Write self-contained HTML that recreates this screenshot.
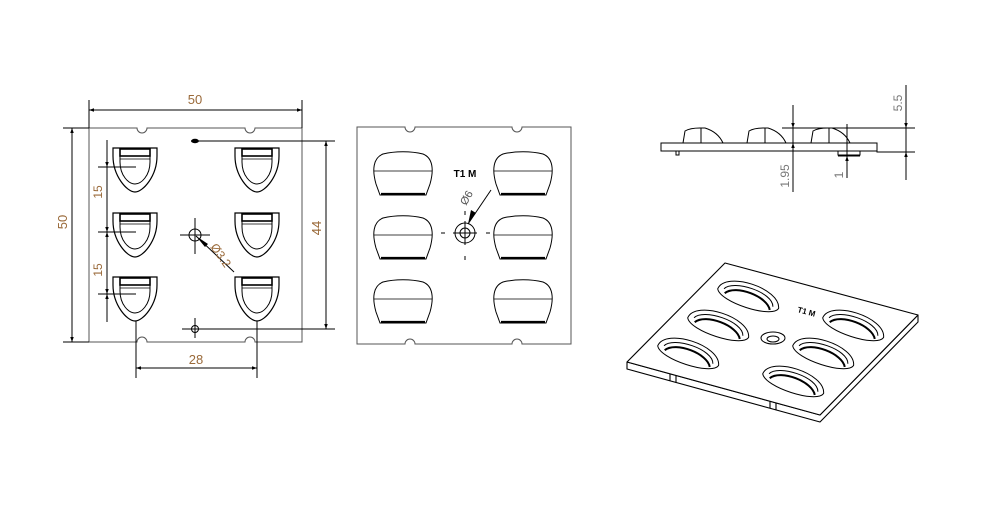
<!DOCTYPE html>
<html><head><meta charset="utf-8"><style>
html,body{margin:0;padding:0;background:#fff}
svg{display:block}
text{font-family:"Liberation Sans",sans-serif}
</style></head><body>
<svg width="1000" height="517" viewBox="0 0 1000 517" xmlns="http://www.w3.org/2000/svg">
<defs>
<marker id="ar" viewBox="0 0 10 10" refX="10" refY="5" markerWidth="9" markerHeight="5" orient="auto-start-reverse" markerUnits="userSpaceOnUse"><path d="M0,1.5 L10,5 L0,8.5 z" fill="#000"/></marker>
<g id="u">
<path d="M-22,0 H22 V8 C22,28 8,44 0,44 C-8,44 -22,28 -22,8 Z" fill="#fff" stroke="#000" stroke-width="1.2"/>
<path d="M-15,8 V14 C-15,28 -6,36 0,36 C6,36 15,28 15,14 V8" fill="none" stroke="#000" stroke-width="1"/>
<rect x="-15" y="1" width="30" height="7" fill="#fff" stroke="#000" stroke-width="1.6"/>
<line x1="-15" y1="11" x2="15" y2="11" stroke="#000" stroke-width="0.8"/>
</g>
<g id="pl">
<path d="M-23,39 L-27,28 C-31,14 -30,2 -20,-2 C-8,-5 8,-5 20,-2 C30,2 31,14 27,28 L23,39 Z" fill="#fff" stroke="#000" stroke-width="1"/>
<line x1="-29" y1="15" x2="29" y2="15" stroke="#000" stroke-width="0.8"/>
<line x1="-22" y1="38" x2="22" y2="38" stroke="#000" stroke-width="2.2"/>
</g>
<g id="iso">
<path d="M-32,6 C-30,-14 28,-14 32,6 C28,18 -26,18 -32,6 Z" fill="#fff" stroke="#000" stroke-width="1"/>
<path d="M-26,4 C-20,-8 22,-8 26,6" fill="none" stroke="#000" stroke-width="1"/>
<path d="M-24,8 C-16,-4 18,-2 24,10" fill="none" stroke="#000" stroke-width="2"/>
</g>
</defs>

<!-- LEFT VIEW -->
<g fill="none" stroke="#000" stroke-width="1">
<path d="M89,128 H137 A5,5 0 0 0 147,128 H245 A5,5 0 0 0 255,128 H302 V342 H255 A5,5 0 0 0 245,342 H147 A5,5 0 0 0 137,342 H89 Z" stroke="#555"/>
<line x1="89" y1="100" x2="89" y2="128"/><line x1="302" y1="100" x2="302" y2="128"/>
<line x1="89" y1="110" x2="302" y2="110" marker-start="url(#ar)" marker-end="url(#ar)"/>
<line x1="63" y1="128" x2="89" y2="128"/><line x1="63" y1="342" x2="89" y2="342"/>
<line x1="72" y1="128" x2="72" y2="342" marker-start="url(#ar)" marker-end="url(#ar)"/>
<line x1="199" y1="141" x2="335" y2="141"/><line x1="182" y1="329" x2="335" y2="329"/>
<line x1="326" y1="141" x2="326" y2="329" marker-start="url(#ar)" marker-end="url(#ar)"/>
<line x1="136" y1="290" x2="136" y2="378"/><line x1="257" y1="290" x2="257" y2="378"/>
<line x1="136" y1="368" x2="257" y2="368" marker-start="url(#ar)" marker-end="url(#ar)"/>
</g>
<ellipse cx="195" cy="141" rx="4" ry="2.2" fill="#000"/>
<use href="#u" x="135" y="148"/><use href="#u" x="257" y="148"/>
<use href="#u" x="135" y="213"/><use href="#u" x="257" y="213"/>
<use href="#u" x="135" y="277"/><use href="#u" x="257" y="277"/>
<g fill="none" stroke="#000" stroke-width="1">
<line x1="107" y1="140" x2="107" y2="322"/>
<line x1="107" y1="150" x2="107" y2="167" marker-end="url(#ar)"/>
<line x1="107" y1="215" x2="107" y2="232" marker-end="url(#ar)"/>
<line x1="107" y1="250" x2="107" y2="232" marker-end="url(#ar)"/>
<line x1="107" y1="277" x2="107" y2="294" marker-end="url(#ar)"/>
<line x1="107" y1="312" x2="107" y2="294" marker-end="url(#ar)"/>
<line x1="98" y1="167" x2="136" y2="167"/><line x1="98" y1="232" x2="136" y2="232"/><line x1="98" y1="294" x2="136" y2="294"/>
<circle cx="195" cy="235" r="6"/><line x1="180" y1="235" x2="210" y2="235"/><line x1="195" y1="218" x2="195" y2="254"/>
<line x1="196" y1="236" x2="234" y2="272"/>
<circle cx="195" cy="329" r="3.5"/><line x1="195" y1="318" x2="195" y2="338"/>
</g>
<path d="M196,236 L208,244 L205,247 Z" fill="#000"/>
<g fill="#9a6a3a" font-size="13">
<text x="195" y="104" text-anchor="middle">50</text>
<text x="196" y="364" text-anchor="middle">28</text>
<text transform="translate(67,222) rotate(-90)" text-anchor="middle">50</text>
<text transform="translate(321,228) rotate(-90)" text-anchor="middle">44</text>
<text transform="translate(102,192) rotate(-90)" text-anchor="middle" font-size="12">15</text>
<text transform="translate(102,270) rotate(-90)" text-anchor="middle" font-size="12">15</text>
<text transform="translate(210,247) rotate(55)" font-size="12">Ø3.2</text>
</g>

<!-- MIDDLE VIEW -->
<path d="M357,127 H405 A5,5 0 0 0 415,127 H512 A5,5 0 0 0 522,127 H571 V344 H522 A5,5 0 0 0 512,344 H415 A5,5 0 0 0 405,344 H357 Z" fill="none" stroke="#555" stroke-width="1"/>
<use href="#pl" x="403" y="156"/><use href="#pl" x="523" y="156"/>
<use href="#pl" x="403" y="220"/><use href="#pl" x="523" y="220"/>
<use href="#pl" x="403" y="284"/><use href="#pl" x="523" y="284"/>
<g fill="none" stroke="#000" stroke-width="1">
<circle cx="465" cy="233" r="10"/><circle cx="465" cy="233" r="5"/>
<line x1="453" y1="233" x2="477" y2="233"/><line x1="465" y1="221" x2="465" y2="245"/>
<line x1="441" y1="233" x2="445" y2="233"/><line x1="486" y1="233" x2="490" y2="233"/>
<line x1="465" y1="211" x2="465" y2="215"/><line x1="465" y1="256" x2="465" y2="260"/>
<line x1="468" y1="224" x2="491" y2="190"/>
</g>
<path d="M468,224 L471,210 L476,213 Z" fill="#000"/>
<text x="465" y="177" text-anchor="middle" font-size="10" font-weight="bold">T1 M</text>
<text transform="translate(466,206) rotate(-60)" font-size="11" fill="#555">Ø6</text>

<!-- RIGHT TOP SIDE VIEW -->
<g fill="none" stroke="#000" stroke-width="1">
<rect x="661" y="143" width="216" height="8"/>
<path d="M877,143 V152 H915"/>
<path d="M676,151 V155 H679 V151"/>
<path d="M838,151 V155 H860 V151"/>
<path d="M683,143 L685,131 Q690,128 700,128 H705 Q718,132 723,143"/>
<path d="M747,143 L749,131 Q754,128 764,128 H768 Q781,132 786,143"/>
<path d="M811,143 L813,131 Q818,128 828,128 H832 Q845,132 850,143"/>
<line x1="701" y1="128" x2="701" y2="143"/><line x1="765" y1="128" x2="765" y2="143"/><line x1="829" y1="128" x2="829" y2="143"/>
<line x1="782" y1="128" x2="915" y2="128"/>
<line x1="793" y1="105" x2="793" y2="192"/>
<line x1="793" y1="160" x2="793" y2="143" marker-end="url(#ar)"/>
<line x1="793" y1="115" x2="793" y2="128" marker-end="url(#ar)"/>
<line x1="847" y1="124" x2="847" y2="178"/>
<line x1="847" y1="165" x2="847" y2="156" marker-end="url(#ar)"/>
<line x1="838" y1="156" x2="860" y2="156"/>
<line x1="906" y1="85" x2="906" y2="180"/>
<line x1="906" y1="110" x2="906" y2="128" marker-end="url(#ar)"/>
<line x1="906" y1="170" x2="906" y2="152" marker-end="url(#ar)"/>
</g>
<g fill="#777" font-size="12">
<text transform="translate(789,176) rotate(-90)" text-anchor="middle">1.95</text>
<text transform="translate(843,175) rotate(-90)" text-anchor="middle">1</text>
<text transform="translate(902,103) rotate(-90)" text-anchor="middle">5.5</text>
</g>

<!-- ISOMETRIC -->
<g fill="#fff" stroke="#000" stroke-width="1.1" stroke-linejoin="round">
<path d="M627,362 L820,415 L918,315 L918,322 L820,422 L627,369 Z"/>
<path d="M725,263 L918,315 L820,415 L627,362 Z"/>
<path d="M670,374 V381 M676,376 V383 M770,401 V408 M776,403 V410" fill="none"/>
</g>
<g transform="translate(750,293) rotate(18)"><use href="#iso"/></g>
<g transform="translate(720,322) rotate(18)"><use href="#iso"/></g>
<g transform="translate(690,350) rotate(18)"><use href="#iso"/></g>
<g transform="translate(855,322) rotate(18)"><use href="#iso"/></g>
<g transform="translate(825,350) rotate(18)"><use href="#iso"/></g>
<g transform="translate(795,378) rotate(18)"><use href="#iso"/></g>
<ellipse cx="773" cy="338" rx="12" ry="6" fill="#fff" stroke="#000"/>
<ellipse cx="773" cy="339" rx="6" ry="3" fill="#fff" stroke="#000"/>
<text x="797" y="312" font-size="8" font-weight="bold" transform="rotate(15 797 312)">T1 M</text>
</svg>
</body></html>
